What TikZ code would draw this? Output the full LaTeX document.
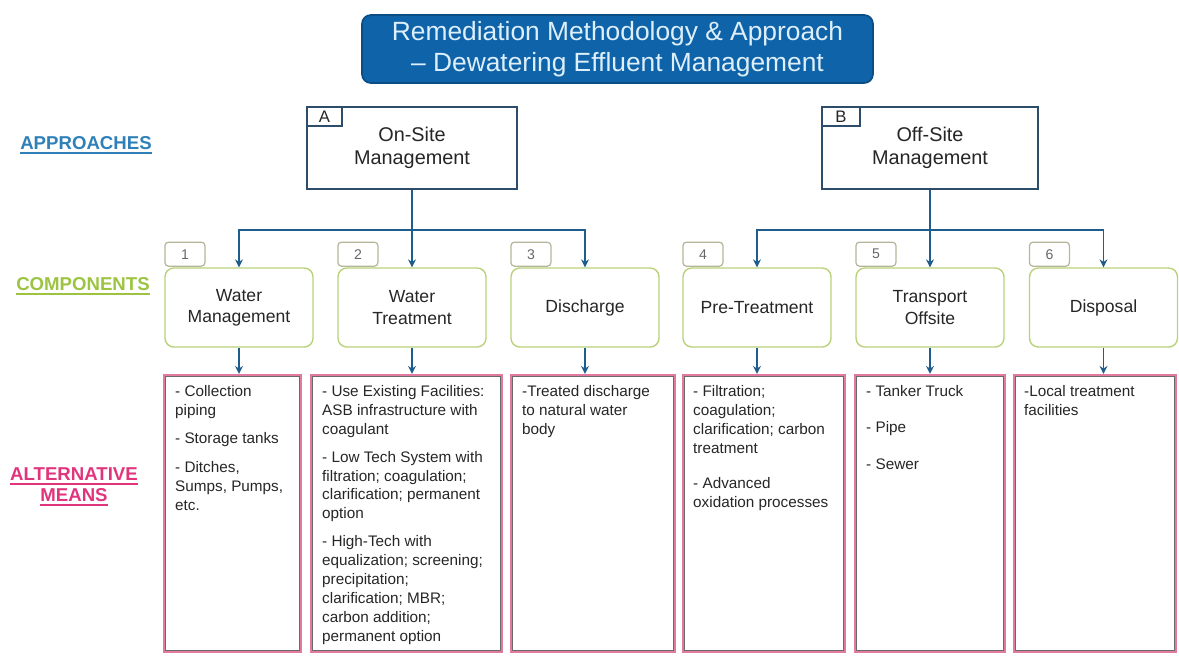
\documentclass[tikz,border=0pt]{standalone}
\usepackage{fontspec}
\setmainfont{Liberation Sans}
\usetikzlibrary{arrows.meta,calc}

\definecolor{titlefill}{HTML}{0F63A8}
\definecolor{titledraw}{HTML}{0B4E85}
\definecolor{titletext}{HTML}{DDEFFB}
\definecolor{apc}{HTML}{2E4D6B}
\definecolor{connc}{HTML}{1F5E8C}
\definecolor{compc}{HTML}{B9D27A}
\definecolor{tabc}{HTML}{B5B59A}
\definecolor{altc}{HTML}{E27AA0}
\definecolor{altinner}{HTML}{6A6A6A}
\definecolor{apblue}{HTML}{2F80B8}
\definecolor{compgreen}{HTML}{9CC442}
\definecolor{altpink}{HTML}{E0357D}
\definecolor{bodytext}{HTML}{262626}

% heavy underline for the row labels
\newcommand\lblul[1]{\vtop{\hbox{#1}\kern1.3pt\hrule height 0.9pt}}

\begin{document}
\begin{tikzpicture}[x=0.02cm,y=-0.02cm,
  conn/.style={draw=connc, line width=0.85pt},
  arr/.style={conn, -{Stealth[length=4.5pt,width=4.5pt]}},
  titlebox/.style={rounded corners=5pt, fill=titlefill, draw=titledraw, line width=1pt,
    text=titletext, font=\fontsize{15}{18}\selectfont, align=center,
    minimum width=10.22cm, minimum height=1.32cm},
  apbox/.style={draw=apc, line width=0.9pt, fill=white, minimum width=4.2cm,
    minimum height=1.64cm, align=center, text=bodytext, font=\fontsize{11.3}{13}\selectfont},
  aptab/.style={draw=apc, line width=0.8pt, minimum width=0.7cm, minimum height=0.38cm,
    inner sep=0pt, anchor=north west, text=bodytext, font=\fontsize{9.5}{11}\selectfont},
  compbox/.style={draw=compc, line width=0.8pt, rounded corners=5pt, fill=white,
    minimum width=2.96cm, minimum height=1.58cm, align=center, text=bodytext,
    font=\fontsize{10}{12}\selectfont},
  comptab/.style={draw=tabc, line width=0.7pt, rounded corners=2pt, minimum width=0.8cm,
    minimum height=0.48cm, inner sep=0pt, anchor=south west, text=black!60,
    font=\fontsize{8}{9}\selectfont},
  altbox/.style={draw=altc, line width=1.3pt, minimum height=5.54cm,
    path picture={\draw[altinner, line width=0.45pt]
      ([shift={(0.85pt,-0.85pt)}]path picture bounding box.north west) rectangle
      ([shift={(-0.85pt,0.85pt)}]path picture bounding box.south east);}},
  alttext/.style={anchor=north west, inner sep=0pt, align=left, text=bodytext,
    font=\fontsize{8.7}{10.8}\selectfont},
  rowlabel/.style={font=\fontsize{10.6}{13}\selectfont\bfseries, align=center}
]
\useasboundingbox (0,0) rectangle (1179,656);

% title
\node[titlebox] (title) at (617.5,49)
  {Remediation Methodology \& Approach\\– Dewatering Effluent Management};

% row labels
\node[rowlabel, text=apblue] (lblA) at (86,145) {\lblul{APPROACHES}};
\node[rowlabel, text=compgreen] (lblC) at (83,286) {\lblul{COMPONENTS}};
\node[rowlabel, text=altpink] (lblM) at (74,487) {\lblul{ALTERNATIVE}\\[-1pt]\lblul{MEANS}};

% approaches
\node[apbox] (A) at (412,148) {On-Site\\Management};
\node[aptab] (tabA) at (A.north west) {A};
\node[apbox, minimum width=4.32cm] (B) at (930,148) {Off-Site\\Management};
\node[aptab, minimum width=0.76cm] (tabB) at (B.north west) {B};

% components
\node[compbox] (c1) at (239,307.5) {Water\\Management};
\node[compbox] (c2) at (412,307.5) {Water\\Treatment};
\node[compbox] (c3) at (585,307.5) {Discharge};
\node[compbox] (c4) at (757,307.5) {Pre-Treatment};
\node[compbox] (c5) at (930,307.5) {Transport\\Offsite};
\node[compbox] (c6) at (1103.5,307.5) {Disposal};
\foreach \k in {1,...,6}{
  \node[comptab] (t\k) at ([yshift=0.3pt]c\k.north west) {\k};
}

% alternative means
\node[altbox, minimum width=2.74cm] (a1) at (232.5,513.5) {};
\node[altbox, minimum width=3.82cm] (a2) at (406.5,513.5) {};
\node[altbox, minimum width=3.28cm] (a3) at (593,513.5) {};
\node[altbox, minimum width=3.24cm] (a4) at (764,513.5) {};
\node[altbox, minimum width=3.0cm] (a5) at (930,513.5) {};
\node[altbox, minimum width=3.24cm] (a6) at (1095,513.5) {};

\node[alttext] (a1t) at ($(a1.north west)+(12,11)$)
  {- Collection\\piping\\[5.5pt]- Storage tanks\\[5.5pt]- Ditches,\\Sumps, Pumps,\\etc.};
\node[alttext] (a2t) at ($(a2.north west)+(12,11)$)
  {- Use Existing Facilities:\\ASB infrastructure with\\coagulant\\[5pt]- Low Tech System with\\filtration; coagulation;\\clarification; permanent\\option\\[5pt]- High-Tech with\\equalization; screening;\\precipitation;\\clarification; MBR;\\carbon addition;\\permanent option};
\node[alttext] (a3t) at ($(a3.north west)+(12,11)$)
  {-Treated discharge\\to natural water\\body};
\node[alttext] (a4t) at ($(a4.north west)+(11,11)$)
  {- Filtration;\\coagulation;\\clarification; carbon\\treatment\\[9pt]- Advanced\\oxidation processes};
\node[alttext] (a5t) at ($(a5.north west)+(12,11)$)
  {- Tanker Truck\\[10pt]- Pipe\\[10pt]- Sewer};
\node[alttext] (a6t) at ($(a6.north west)+(11,11)$)
  {-Local treatment\\facilities};

% approach to component connectors
\coordinate (busA) at ($(A.south)+(0,40)$);
\coordinate (busB) at ($(B.south)+(0,40)$);
\draw[arr] (A.south) -- (c2.north);
\draw[arr] (busA) -| (c1.north);
\draw[arr] (busA) -| (c3.north);
\draw[arr] (B.south) -- (c5.north);
\draw[arr] (busB) -| (c4.north);
\draw[arr] (busB) -| (c6.north);

% component to alternative-means connectors
\foreach \k in {1,...,6}{
  \draw[arr] (c\k.south) -- (c\k.south |- a\k.north);
}
\end{tikzpicture}
\end{document}
